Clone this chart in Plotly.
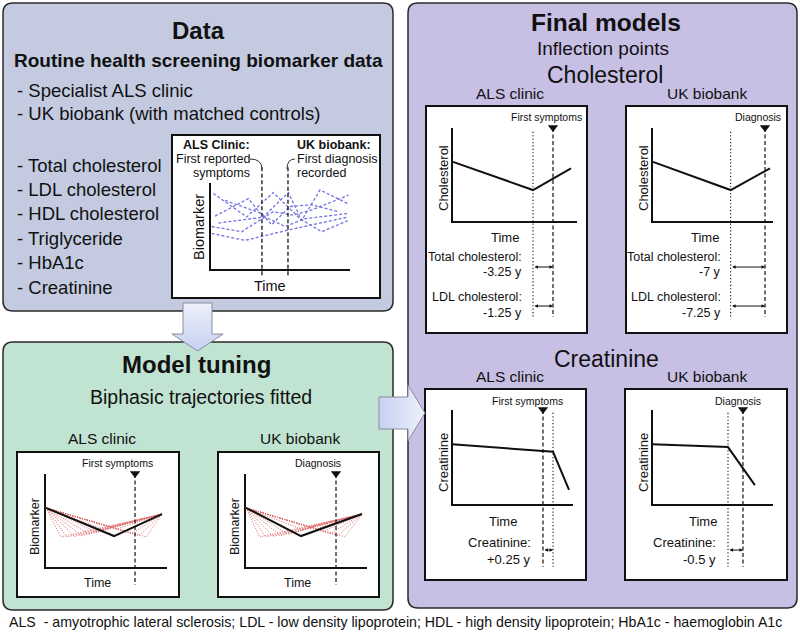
import plotly.graph_objects as go

W, H = 800, 633
FONT = "Liberation Sans, Arial, Helvetica, sans-serif"

# ---------------- data ----------------
data_sources = ["Specialist ALS clinic", "UK biobank (with matched controls)"]
biomarkers = ["Total cholesterol", "LDL cholesterol", "HDL cholesterol",
              "Triglyceride", "HbA1c", "Creatinine"]

# illustrative raw biomarker trajectories (Data panel)
blue_series_x = [
    [0.24, 2.62, 4.52, 6.43, 7.98, 9.88],
    [0.36, 2.74, 3.81, 5.60, 6.55, 7.86, 9.88],
    [0.12, 2.26, 4.52, 5.95, 7.26, 9.90],
    [0.12, 2.50, 5.60, 7.98, 9.88],
    [0.60, 2.00, 3.93, 5.36, 6.79, 9.88],
    [1.07, 3.69, 4.40, 5.71, 7.26, 9.17],
]
blue_series_y = [
    [8.8, 6.1, 8.9, 5.9, 4.4, 5.7],
    [6.2, 8.2, 6.1, 8.9, 5.7, 9.2, 7.6],
    [5.0, 4.4, 6.7, 6.3, 6.9, 8.6],
    [4.2, 3.4, 4.6, 5.4, 6.1],
    [5.4, 5.7, 6.1, 5.0, 5.9, 6.5],
    [8.0, 6.5, 5.2, 7.3, 7.5, 6.7],
]
data_event_x = [3.71, 5.57]          # ALS first symptoms, UK first diagnosis

# Model tuning (biphasic fits)
tune_start = [0.08, 6.4]
tune_end = [9.59, 5.74]
tune_best_vertex_als = [5.66, 3.4]
tune_best_vertex_uk = [4.59, 3.4]
tune_red_vx_als = [1.3, 1.8, 2.4, 3.0, 3.6, 4.2, 4.8, 5.3, 5.9, 6.5, 7.1, 7.7, 8.3]
tune_red_vy_als = [3.3, 3.3, 3.35, 3.45, 3.6, 3.8, 4.1, 4.4, 4.15, 3.9, 3.65, 3.45, 3.3]
tune_red_vx_uk = [1.2, 1.7, 2.3, 2.9, 3.5, 4.1, 4.7, 5.2, 5.8, 6.4, 7.0, 7.6, 8.2]
tune_red_vy_uk = [3.3, 3.3, 3.35, 3.45, 3.6, 3.8, 4.1, 4.4, 4.15, 3.9, 3.65, 3.45, 3.3]
tune_event_x = [7.38, 7.46]

# Final models
chol_x_als = [0.08, 6.48, 9.52]
chol_y_als = [6.4, 3.4, 5.7]
chol_x_uk = [0.08, 6.50, 9.75]
chol_y_uk = [6.4, 3.4, 5.7]
chol_event_x = [8.08, 9.34]
chol_names = ["Total cholesterol:", "LDL cholesterol:"]
chol_shift_als = ["-3.25 y", "-1.25 y"]
chol_shift_uk = ["-7 y", "-7.25 y"]

creat_x_als = [0.0, 8.35, 9.67]
creat_y_als = [6.4, 5.6, 1.6]
creat_x_uk = [0.0, 6.28, 8.50]
creat_y_uk = [6.4, 6.1, 2.1]
creat_event_x = [7.52, 7.52]
creat_shift = ["+0.25 y", "-0.5 y"]

footer = ("ALS  - amyotrophic lateral sclerosis; LDL - low density lipoprotein; "
          "HDL - high density lipoprotein; HbA1c - haemoglobin A1c")

# ---------------- figure ----------------
fig = go.Figure()
layout = dict(
    width=W, height=H, margin=dict(l=0, r=0, t=0, b=0),
    paper_bgcolor="white", plot_bgcolor="rgba(0,0,0,0)",
    showlegend=False, font=dict(family=FONT, color="#111"),
    xaxis=dict(domain=[0, 1], range=[0, W], visible=False, fixedrange=True),
    yaxis=dict(domain=[0, 1], range=[H, 0], visible=False, fixedrange=True),
)
shapes = []
annots = []

DASH = "4px,2.5px"
DOT = "1.2px,2.2px"


def rrect(x0, y0, x1, y1, r):
    return (f"M{x0+r},{y0} L{x1-r},{y0} Q{x1},{y0} {x1},{y0+r} L{x1},{y1-r} "
            f"Q{x1},{y1} {x1-r},{y1} L{x0+r},{y1} Q{x0},{y1} {x0},{y1-r} "
            f"L{x0},{y0+r} Q{x0},{y0} {x0+r},{y0} Z")


def big_box(x0, y0, x1, y1, color):
    shapes.append(dict(type="path", path=rrect(x0, y0, x1, y1, 10), xref="x", yref="y",
                       fillcolor=color, line=dict(color="#2b2b2b", width=1.5), layer="below"))


def txt(x, y, s, size, xanchor="center", angle=0, ref=("x", "y")):
    annots.append(dict(x=x, y=y, xref=ref[0], yref=ref[1], text=s, showarrow=False,
                       xanchor=xanchor, yanchor="middle", textangle=angle,
                       font=dict(size=size, family=FONT, color="#111")))


big_box(3, 3, 393, 311, "#c4cbe1")
big_box(3, 342, 393, 610, "#c1e3d1")
big_box(408, 3, 797, 608, "#c7bfe4")

# arrows (gradient)
fig.add_trace(go.Scatter(
    x=[183, 212, 212, 223, 197.5, 172, 183, 183], y=[303, 303, 334, 334, 351, 334, 334, 303],
    mode="lines", fill="toself", line=dict(color="#8a8c9c", width=1),
    fillgradient=dict(type="vertical", colorscale=[[0, "#c6d0f1"], [1, "#eef1fb"]]),
    hoverinfo="skip"))
fig.add_trace(go.Scatter(
    x=[379, 408, 408, 425, 408, 408, 379, 379], y=[397, 397, 385, 413, 441, 429, 429, 397],
    mode="lines", fill="toself", line=dict(color="#8a8c9c", width=1),
    fillgradient=dict(type="horizontal", colorscale=[[0, "#c6d0f1"], [1, "#eef1fb"]]),
    hoverinfo="skip"))


def add_panel(n, box, axis):
    bx0, by0, bx1, by1 = box
    ax0, ax1, ay0, ay1 = axis
    sx = (ax1 - ax0) / 10.0
    sy = (ay0 - ay1) / 10.0
    layout[f"xaxis{n}"] = dict(domain=[bx0 / W, bx1 / W], range=[(bx0 - ax0) / sx, (bx1 - ax0) / sx],
                               visible=False, fixedrange=True, anchor=f"y{n}")
    layout[f"yaxis{n}"] = dict(domain=[1 - by1 / H, 1 - by0 / H], range=[(ay0 - by1) / sy, (ay0 - by0) / sy],
                               visible=False, fixedrange=True, anchor=f"x{n}")
    shapes.append(dict(type="rect", x0=bx0, y0=by0, x1=bx1, y1=by1, xref="x", yref="y",
                       fillcolor="white", line=dict(color="#111", width=2), layer="below"))
    xa, ya = f"x{n}", f"y{n}"
    fig.add_trace(go.Scatter(x=[0, 0, 10], y=[10, 0, 0], mode="lines", xaxis=xa, yaxis=ya,
                             line=dict(color="#111", width=2), hoverinfo="skip"))
    return xa, ya


def vline(xa, ya, x, y0, y1, dash, width=1.2):
    fig.add_trace(go.Scatter(x=[x, x], y=[y0, y1], mode="lines", xaxis=xa, yaxis=ya,
                             line=dict(color="#111", width=width, dash=dash), hoverinfo="skip"))


def marker_tri(xa, ya, x, y):
    fig.add_trace(go.Scatter(x=[x], y=[y], mode="markers", xaxis=xa, yaxis=ya,
                             marker=dict(symbol="triangle-down", size=9, color="#111"),
                             hoverinfo="skip"))


def dbl_arrow(xa, ya, x0, x1, y):
    annots.append(dict(x=x1, y=y, ax=x0, ay=y, xref=xa, yref=ya, axref=xa, ayref=ya,
                       text="", showarrow=True, arrowhead=2, arrowside="end+start",
                       arrowsize=0.7, arrowwidth=1, arrowcolor="#111", standoff=0, startstandoff=0))


# ---- Data panel ----
xa, ya = add_panel(2, (172, 135, 380, 298), (210, 350, 270, 183))
for sx_, sy_ in zip(blue_series_x, blue_series_y):
    fig.add_trace(go.Scatter(x=sx_, y=sy_, mode="lines", xaxis=xa, yaxis=ya,
                             line=dict(color="#7474e2", width=1.3, dash="3px,2px"), hoverinfo="skip"))
for ex in data_event_x:
    vline(xa, ya, ex, 11.8, -0.85, DASH, 1.3)
shapes.append(dict(type="path", path="M250,159 Q262,159 262,169", xref="x", yref="y",
                   line=dict(color="#333", width=1)))
shapes.append(dict(type="path", path="M295,159 Q287,159 287,169", xref="x", yref="y",
                   line=dict(color="#333", width=1)))
txt(252, 145, "<b>ALS Clinic:</b>", 12.5, "right")
txt(252, 159, "First reported", 12.5, "right")
txt(252, 173, "symptoms", 12.5, "right")
txt(295, 145, "<b>UK biobank:</b>", 12.5, "left")
txt(295, 159, "First diagnosis", 12.5, "left")
txt(295, 173, "recorded", 12.5, "left")
txt(199, 227, "Biomarker", 14.5, angle=-90)
txt(270, 286, "Time", 14.5)

# ---- Model tuning panels ----
tune_specs = [
    (3, (17, 452, 179, 597), (45, 167, 568, 474), tune_best_vertex_als, tune_red_vx_als, tune_red_vy_als,
     tune_event_x[0], "First symptoms"),
    (4, (218, 452, 379, 597), (245, 367, 568, 474), tune_best_vertex_uk, tune_red_vx_uk, tune_red_vy_uk,
     tune_event_x[1], "Diagnosis"),
]
for n, box, axis, best, rvx, rvy, ev, lab in tune_specs:
    xa, ya = add_panel(n, box, axis)
    rx, ry = [], []
    for vx, vy in zip(rvx, rvy):
        rx += [tune_start[0], vx, tune_end[0], None]
        ry += [tune_start[1], vy, tune_end[1], None]
    fig.add_trace(go.Scatter(x=rx, y=ry, mode="lines", xaxis=xa, yaxis=ya,
                             line=dict(color="#e06a6a", width=1, dash="1px,1.5px"), hoverinfo="skip"))
    fig.add_trace(go.Scatter(x=[tune_start[0], best[0], tune_end[0]], y=[tune_start[1], best[1], tune_end[1]],
                             mode="lines", xaxis=xa, yaxis=ya, line=dict(color="#111", width=2),
                             hoverinfo="skip"))
    vline(xa, ya, ev, 10, -1.8, DASH)
    marker_tri(xa, ya, ev, 10.05)
    ax0 = axis[0]
    sxp = (axis[1] - axis[0]) / 10
    txt(ax0 + ev * sxp - 18, 463, lab, 10.5)
    txt(ax0 - 10, 527, "Biomarker", 12.5, angle=-90)
    txt(ax0 + 52, 583, "Time", 12.5)

# ---- Final models: cholesterol ----
chol_specs = [
    (5, (426, 106, 587, 333), (452, 577, 222, 128), chol_x_als, chol_y_als, chol_event_x[0],
     "First symptoms", chol_shift_als, 524),
    (6, (626, 106, 787, 333), (652, 773, 222, 128), chol_x_uk, chol_y_uk, chol_event_x[1],
     "Diagnosis", chol_shift_uk, 723),
]
for n, box, axis, cx, cy, ev, lab, shifts, rx_ in chol_specs:
    xa, ya = add_panel(n, box, axis)
    fig.add_trace(go.Scatter(x=cx, y=cy, mode="lines", xaxis=xa, yaxis=ya,
                             line=dict(color="#111", width=2), hoverinfo="skip"))
    vline(xa, ya, cx[1], 9.6, -10.1, DOT, 1.1)
    vline(xa, ya, ev, 10, -10.1, DASH)
    marker_tri(xa, ya, ev, 10.05)
    dbl_arrow(xa, ya, cx[1], ev, -4.79)
    dbl_arrow(xa, ya, cx[1], ev, -8.94)
    ax0 = axis[0]
    sxp = (axis[1] - axis[0]) / 10
    txt(ax0 + ev * sxp - 7, 117, lab, 10.5)
    txt(ax0 - 9, 178, "Cholesterol", 13, angle=-90)
    txt(ax0 + 53, 237, "Time", 13)
    txt(rx_, 257, chol_names[0], 12.5, "right")
    txt(rx_, 272, shifts[0], 12.5, "right")
    txt(rx_, 297, chol_names[1], 12.5, "right")
    txt(rx_, 313, shifts[1], 12.5, "right")

# ---- Final models: creatinine ----
creat_specs = [
    (7, (425, 389, 586, 580), (452, 573, 505, 410), creat_x_als, creat_y_als, creat_event_x[0],
     "First symptoms", creat_shift[0], 533),
    (8, (625, 389, 787, 580), (652, 773, 505, 410), creat_x_uk, creat_y_uk, creat_event_x[1],
     "Diagnosis", creat_shift[1], 718),
]
for n, box, axis, cx, cy, ev, lab, shift, rx_ in creat_specs:
    xa, ya = add_panel(n, box, axis)
    fig.add_trace(go.Scatter(x=cx, y=cy, mode="lines", xaxis=xa, yaxis=ya,
                             line=dict(color="#111", width=2), hoverinfo="skip"))
    vline(xa, ya, cx[1], 9.7, -6.5, DOT, 1.1)
    vline(xa, ya, ev, 10, -6.5, DASH)
    marker_tri(xa, ya, ev, 10.05)
    dbl_arrow(xa, ya, min(cx[1], ev), max(cx[1], ev), -4.74)
    ax0 = axis[0]
    sxp = (axis[1] - axis[0]) / 10
    txt(ax0 + ev * sxp - 15 if n == 7 else ax0 + ev * sxp - 5, 401, lab, 10.5)
    txt(ax0 - 9, 463, "Creatinine", 13, angle=-90)
    txt(ax0 + 51, 521, "Time", 13)
    txt(rx_, 542, "Creatinine:", 13, "right")
    txt(rx_, 559, shift, 13, "right")

# ---- headings ----
txt(198, 30, "<b>Data</b>", 24)
txt(198, 60, "<b>Routine health screening biomarker data</b>", 19)
for i, s in enumerate(data_sources):
    txt(15, 90 + 23 * i, "- " + s, 18.5, "left")
for i, s in enumerate(biomarkers):
    txt(15, 165 + 24.4 * i, "- " + s, 18.5, "left")

txt(196, 364, "<b>Model tuning</b>", 24)
txt(201, 397, "Biphasic trajectories fitted", 19.5)
txt(102, 438, "ALS clinic", 15.5)
txt(300, 438, "UK biobank", 15.5)

txt(606, 22, "<b>Final models</b>", 24.5)
txt(603, 48, "Inflection points", 19)
txt(605, 75, "Cholesterol", 23)
txt(510, 93, "ALS clinic", 15.5)
txt(707, 93, "UK biobank", 15.5)
txt(606, 359, "Creatinine", 23)
txt(510, 376, "ALS clinic", 15.5)
txt(707, 376, "UK biobank", 15.5)

txt(7, 622, footer, 14.2, "left")

layout["shapes"] = shapes
layout["annotations"] = annots
fig.update_layout(**layout)
fig.write_html("out.html", config={"displayModeBar": False},
               post_script="document.body.style.margin='0';document.body.style.overflow='hidden';")
